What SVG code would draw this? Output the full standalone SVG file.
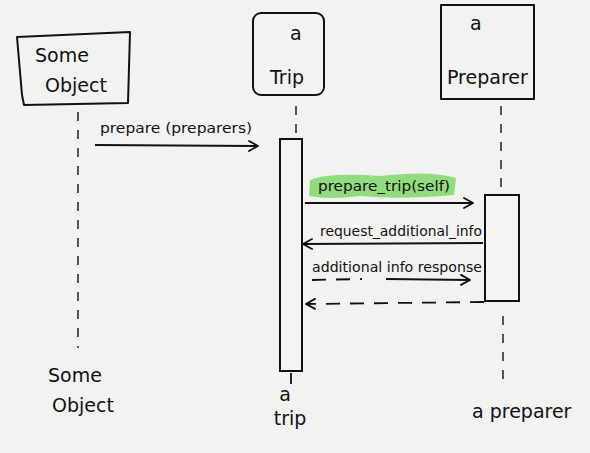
<svg xmlns="http://www.w3.org/2000/svg" width="590" height="453" viewBox="0 0 590 453">
<defs>
<marker id="open" markerWidth="12" markerHeight="12" refX="10" refY="6" orient="auto" markerUnits="userSpaceOnUse">
<path d="M1,1 L10,6 L1,11" fill="none" stroke="#111" stroke-width="1.8" stroke-linecap="round" stroke-linejoin="round"/>
</marker>
</defs>
<style>
.bg{fill:#f2f2f1}
.box{fill:none;stroke:#111;stroke-width:2;stroke-linejoin:round}
.act{fill:#f4f4f3;stroke:#111;stroke-width:2}
.life{stroke:#222;stroke-width:1.5;stroke-dasharray:9 9;fill:none}
.msg{stroke:#111;stroke-width:1.8;fill:none}
.ret{stroke:#111;stroke-width:1.8;fill:none;stroke-dasharray:14 10}
.t{font-family:"DejaVu Sans","Liberation Sans",sans-serif;fill:#111}
.big{font-size:19px}
.sm{font-size:14px}
</style>
<rect class="bg" x="0" y="0" width="590" height="453"/>

<g id="connectors">
<line class="life" x1="78" y1="112" x2="78" y2="348"/>
<line class="life" x1="296" y1="106" x2="296" y2="136"/>
<line class="life" x1="501" y1="106" x2="501" y2="192"/>
<line class="life" x1="503" y1="316" x2="503" y2="388"/>
<line class="msg" x1="291" y1="373" x2="291" y2="384"/>
<line class="msg" x1="95" y1="145" x2="258" y2="146" marker-end="url(#open)"/>
<path d="M310,180 Q330,172 380,176 Q430,170 456,178 L454,195 Q400,200 360,196 Q330,200 309,196 Z" fill="#7fd86a" opacity="0.85"/>
<line class="msg" x1="305" y1="203" x2="473" y2="203" marker-end="url(#open)"/>
<line class="msg" x1="483" y1="243" x2="303" y2="244" marker-end="url(#open)"/>
<path class="ret" d="M312,280 L362,279"/>
<line class="msg" x1="386" y1="279" x2="470" y2="280" marker-end="url(#open)"/>
<line class="ret" x1="484" y1="302" x2="306" y2="304" marker-end="url(#open)"/>
</g>

<g id="some-object">
<path class="box" d="M22,95 L17,37 L130,32 L128,103 L24,105 L22,95"/>
<text class="t big" x="35" y="62">Some</text>
<text class="t big" x="45" y="92">Object</text>
</g>

<g id="a-trip">
<rect class="box" x="253" y="13" width="71" height="82" rx="8"/>
<text class="t big" x="290" y="40">a</text>
<text class="t big" x="270" y="84">Trip</text>
<rect class="act" x="280" y="139" width="22" height="232"/>
</g>

<g id="a-preparer">
<rect class="box" x="441" y="5" width="93" height="94"/>
<text class="t big" x="470" y="30">a</text>
<text class="t big" x="447" y="84">Preparer</text>
<rect class="act" x="485" y="195" width="34" height="106"/>
</g>

<g id="labels">
<text class="t sm" x="100" y="133" textLength="152" lengthAdjust="spacingAndGlyphs">prepare (preparers)</text>
<text class="t sm" x="318" y="191" textLength="132" lengthAdjust="spacingAndGlyphs">prepare_trip(self)</text>
<text class="t sm" x="320" y="236" textLength="162" lengthAdjust="spacingAndGlyphs">request_additional_info</text>
<text class="t sm" x="312" y="272" textLength="170" lengthAdjust="spacingAndGlyphs">additional info response</text>
<text class="t big" x="48" y="382">Some</text>
<text class="t big" x="52" y="412">Object</text>
<text class="t big" x="285" y="401" text-anchor="middle">a</text>
<text class="t big" x="290" y="425" text-anchor="middle">trip</text>
<text class="t big" x="472" y="418">a preparer</text>
</g>
</svg>
